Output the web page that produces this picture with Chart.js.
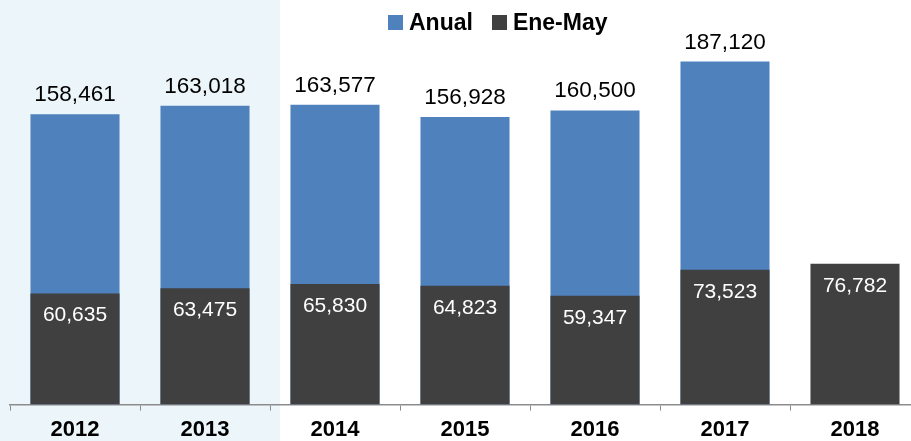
<!DOCTYPE html>
<html>
<head>
<meta charset="utf-8">
<script src="https://cdn.jsdelivr.net/npm/chart.js@4"></script>
<style>
html, body { margin: 0; padding: 0; background: #fff; overflow: hidden; }
#wrap { position: relative; width: 911px; height: 441px; overflow: hidden; }
#panel { position: absolute; left: 0; top: 0; width: 280px; height: 441px; background: #ECF5F9; }
#chartBox { position: absolute; left: 0; top: 0; }
#legend { position: absolute; top: 9px; left: 388px; display: flex; align-items: center;
  font: bold 23px "Liberation Sans", Arial, sans-serif; color: #000; line-height: 26px; }
#legend .sw { display: inline-block; width: 15px; height: 15px; margin-right: 6px; }
#legend .item { display: flex; align-items: center; margin-right: 19px; }
</style>
</head>
<body>
<div id="wrap">
  <div id="panel"></div>
  <div id="chartBox"><canvas id="myChart" width="920" height="449"></canvas></div>
  <div id="legend">
    <span class="item"><span class="sw" style="background:#4F81BD"></span>Anual</span>
    <span class="item"><span class="sw" style="background:#404040"></span>Ene-May</span>
  </div>
</div>
<script>
// Data
const years = ["2012", "2013", "2014", "2015", "2016", "2017", "2018"];
const anual = [158461, 163018, 163577, 156928, 160500, 187120, null];
const eneMay = [60635, 63475, 65830, 64823, 59347, 73523, 76782];

const fmt = v => v.toLocaleString('en-US');

// Value labels: totals above the blue bars, Ene-May inside the dark bars
const valueLabels = {
    id: 'valueLabels',
    afterDatasetsDraw(chart) {
        const ctx = chart.ctx;
        ctx.save();
        ctx.textAlign = 'center';

        ctx.font = '22.5px "Liberation Sans", Arial, sans-serif';
        ctx.fillStyle = '#000';
        ctx.textBaseline = 'alphabetic';
        chart.getDatasetMeta(0).data.forEach((bar, i) => {
            if (anual[i] == null) return;
            ctx.fillText(fmt(anual[i]), bar.x, bar.y - 13);
        });

        ctx.font = '21px "Liberation Sans", Arial, sans-serif';
        ctx.fillStyle = '#fff';
        ctx.textBaseline = 'middle';
        chart.getDatasetMeta(1).data.forEach((bar, i) => {
            ctx.fillText(fmt(eneMay[i]), bar.x, bar.y + 22);
        });
        ctx.restore();
    }
};

const ctx = document.getElementById("myChart").getContext("2d");
new Chart(ctx, {
    type: 'bar',
    data: {
        labels: years,
        datasets: [
            {
                label: 'Anual',
                data: anual,
                backgroundColor: '#4F81BD',
                order: 1
            },
            {
                label: 'Ene-May',
                data: eneMay,
                backgroundColor: '#404040',
                order: 0
            }
        ]
    },
    options: {
        responsive: false,
        animation: false,
        layout: { padding: { left: 10, right: 0, top: 38, bottom: 0 } },
        datasets: {
            bar: { grouped: false, categoryPercentage: 1, barPercentage: 0.685 }
        },
        plugins: {
            legend: { display: false },
            tooltip: { enabled: false }
        },
        scales: {
            x: {
                grid: { display: true, drawOnChartArea: false, offset: true, tickLength: 6, color: '#8C8C8C' },
                border: { color: '#8C8C8C', width: 1.5 },
                ticks: {
                    color: '#000',
                    padding: 6,
                    font: { family: '"Liberation Sans", Arial, sans-serif', size: 22, weight: 'bold' }
                }
            },
            y: {
                display: false,
                min: 0,
                max: 200000
            }
        }
    },
    plugins: [valueLabels]
});
</script>
</body>
</html>
